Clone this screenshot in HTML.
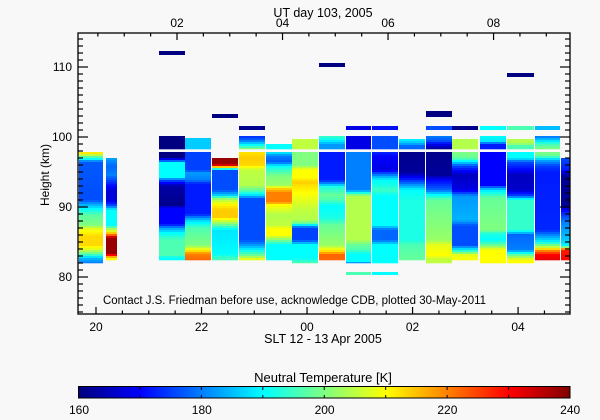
<!DOCTYPE html>
<html><head><meta charset="utf-8"><style>
html,body{margin:0;padding:0;background:#f8f8f8;}
svg{display:block;font-family:"Liberation Sans",sans-serif;}
</style></head><body>
<svg id="s" width="600" height="420" xmlns="http://www.w3.org/2000/svg"></svg>
<script>
function jet(v){var t=(v-160)/80;t=Math.max(0,Math.min(1,t));
function c(x){return Math.round(255*Math.max(0,Math.min(1,x)));}
var r=c(1.5-Math.abs(4*t-3)),g=c(1.5-Math.abs(4*t-2)),b=c(1.5-Math.abs(4*t-1));
return 'rgb('+r+','+g+','+b+')';}
var out=[];
function rect(x,y,w,h,f){out.push('<rect x="'+x+'" y="'+y+'" width="'+w+'" height="'+h+'" fill="'+f+'"/>');}
function interp(k,y){if(y<=k[0][0])return k[0][1];for(var i=1;i<k.length;i++){if(y<=k[i][0]){var a=k[i-1],b=k[i];return a[1]+(b[1]-a[1])*(y-a[0])/(b[0]-a[0]);}}return k[k.length-1][1];}
function block(x0,x1,y0,y1,k){for(var y=y0;y<y1;y+=2){var h=Math.min(2,y1-y);rect(x0,y,x1-x0,h+0.3,jet(interp(k,y+1)));}}
var cols=[
[79,103,null,[152,263,[[152,215],[155,205],[157,197],[159,190],[162,177],[200,176],[205,184],[209,190],[215,197],[225,200],[229,208],[236,213],[245,213],[249,208],[254,197],[258,185],[263,180]]]],
[106,117,null,[158,260,[[158,183],[166,178],[175,180],[190,167],[200,167],[205,175],[210,190],[225,190],[228,200],[232,210],[235,222],[238,238],[253,238],[255,230],[258,210]]]],
[159,185,[136,149,[[136,160],[149,160]]],[152,260,[[152,160],[157,160],[160,172],[163,190],[177,190],[180,177],[186,163],[205,161],[208,170],[224,170],[228,182],[233,190],[240,196],[255,196],[258,190]]]],
[185,211,[138,149,[[138,186],[149,186]]],[152,260,[[152,175],[170,175],[173,182],[180,180],[184,172],[214,172],[220,186],[228,196],[245,200],[250,210],[254,220],[260,222]]]],
[212,238,null,[158,260,[[158,238],[164,238],[166,228],[168,200],[171,176],[190,176],[195,186],[199,202],[204,210],[210,214],[217,214],[220,208],[225,198],[230,188],[254,190],[258,195]]]],
[239,265,[136,149,[[136,173],[140,178],[144,188],[149,200]]],[152,260,[[152,212],[158,214],[165,213],[170,205],[185,204],[190,198],[195,188],[199,176],[240,176],[245,182],[250,190],[255,198],[259,208]]]],
[266,292,[144,149,[[144,190],[149,190]]],[152,260,[[152,190],[156,180],[162,177],[166,190],[171,195],[176,200],[185,202],[189,214],[193,220],[202,220],[205,210],[215,204],[225,205],[229,210],[235,210],[240,200],[245,190],[260,190]]]],
[292,318,[139,149,[[139,205],[149,205]]],[152,263,[[152,200],[165,200],[170,210],[178,210],[182,214],[186,212],[200,208],[210,205],[220,204],[223,198],[228,175],[240,175],[245,190],[258,190],[263,196]]]],
[319,345,[136,149,[[136,195],[140,190],[145,182],[149,182]]],[152,260,[[152,172],[180,172],[183,180],[187,192],[195,198],[200,196],[206,190],[218,192],[225,198],[245,202],[250,210],[255,222],[260,222]]]],
[346,371,[136,149,[[136,168],[149,168]]],[152,263,[[152,180],[190,180],[196,204],[240,204],[245,198],[250,196],[254,190],[261,190],[263,182]]]],
[372,398,[136,149,[[136,176],[149,176]]],[152,263,[[152,173],[156,170],[170,168],[174,178],[180,190],[186,192],[190,195],[196,190],[225,190],[230,178],[240,178],[245,190],[263,190]]]],
[399,425,[139,149,[[139,190],[143,185],[147,176],[149,180]]],[152,260,[[152,161],[172,162],[178,170],[184,180],[190,190],[200,192],[240,192],[245,196],[260,198]]]],
[426,452,[136,149,[[136,180],[141,176],[145,168],[149,162]]],[152,263,[[152,161],[175,162],[180,170],[190,178],[195,190],[200,198],[240,202],[245,208],[255,210],[260,205],[263,205]]]],
[452,478,[139,149,[[139,204],[149,204]]],[152,260,[[152,200],[158,198],[161,190],[166,176],[175,165],[190,168],[196,182],[220,184],[226,176],[245,176],[250,190],[255,208],[260,210]]]],
[480,506,[136,149,[[136,190],[142,188],[144,172],[149,172]]],[152,263,[[152,170],[185,170],[190,188],[198,198],[230,200],[234,192],[240,190],[245,198],[250,210],[263,210]]]],
[507,534,[139,149,[[139,204],[143,204],[146,196],[149,196]]],[152,263,[[152,190],[158,190],[162,176],[170,170],[175,165],[190,166],[196,176],[200,194],[230,194],[235,178],[250,180],[255,198],[260,210]]]],
[535,560,[136,149,[[136,178],[140,186],[144,195],[149,200]]],[152,260,[[152,200],[156,198],[160,184],[166,175],[172,172],[230,173],[236,182],[242,190],[247,205],[251,220],[255,230],[260,232]]]],
[561,570,null,[158,260,[[158,176],[170,172],[176,162],[205,162],[212,172],[222,180],[240,186],[246,190],[250,228],[260,230]]]]
];
cols.forEach(function(c){if(c[2])block(c[0],c[1],c[2][0],c[2][1],c[2][2]);block(c[0],c[1],c[3][0],c[3][1],c[3][2]);});
var bars=[[159,185,51,55,160],[212,238,114,118,160],[239,265,126,130,161],[319,345,63,67,160],[346,371,126,130,168],[372,398,126,130,171],[426,452,111,117,160],[426,452,126,130,176],[452,478,126,130,161],[480,506,126,130,190],[507,534,73,77,160],[507,534,126,130,196],[535,560,126,130,185],[346,371,272,275,196],[372,398,272,275,190]];
bars.forEach(function(b){rect(b[0],b[2],b[1]-b[0],b[3]-b[2],jet(b[4]));});
var L=78,R=570,T=33,B=314;
out.push('<rect x="'+L+'" y="'+T+'" width="'+(R-L)+'" height="'+(B-T)+'" fill="none" stroke="#000" stroke-width="1.3"/>');
function ln(x1,y1,x2,y2,w){out.push('<line x1="'+x1+'" y1="'+y1+'" x2="'+x2+'" y2="'+y2+'" stroke="#000" stroke-width="'+(w||1.2)+'"/>');}
for(var km=75;km<=114;km++){var y=277-(km-80)*7;var maj=km%10==0;var l=maj?10:5;ln(L,y,L+l,y);ln(R,y,R-l,y);}
function txt(x,y,s,sz,anc,extra){out.push('<text x="'+x+'" y="'+y+'" font-size="'+sz+'" text-anchor="'+(anc||'middle')+'" '+(extra||'')+'>'+s+'</text>');}
[[80,277],[90,207],[100,137],[110,67]].forEach(function(a){txt(L-6,a[1]+4,a[0],12,'end');});
for(var i=-1;i<40;i++){var x=96+i*26.38;if(x<L||x>R)continue;var maj=i%4==0;ln(x,B,x,B-(maj?7:3.5));}
['20','22','00','02','04'].forEach(function(s,i){txt(96+i*105.5,B+17,s,12);});
for(var i=-8;i<40;i++){var x=177+i*26.38;if(x<L||x>R)continue;var maj=i%4==0;ln(x,T,x,T+(maj?7:3.5));}
['02','04','06','08'].forEach(function(s,i){txt(177+i*105.5,T-6,s,12);});
txt(323,17,'UT day 103, 2005',12.5);
txt(323,343,'SLT 12 - 13 Apr 2005',12.5);
txt(103,304,'Contact J.S. Friedman before use, acknowledge CDB, plotted 30-May-2011',11.5,'start','textLength="383" lengthAdjust="spacingAndGlyphs"');
txt(49,175,'Height (km)',12,'middle','transform="rotate(-90 49 175)"');
for(var x=79;x<570;x++){rect(x,387,1.2,11,jet(160+(x-79)/491*80));}
out.push('<rect x="78.5" y="386.5" width="491.5" height="11.5" fill="none" stroke="#000" stroke-width="1"/>');
for(var v=170;v<240;v+=10){var x=78.5+(v-160)/80*491.5;ln(x,387,x,390,1);ln(x,398,x,395,1);}
txt(323,382,'Neutral Temperature [K]',13);
[160,180,200,220,240].forEach(function(v,i){txt(79+i*122.8,414,v,12);});
document.getElementById('s').innerHTML=out.join('');
</script>
</body></html>
